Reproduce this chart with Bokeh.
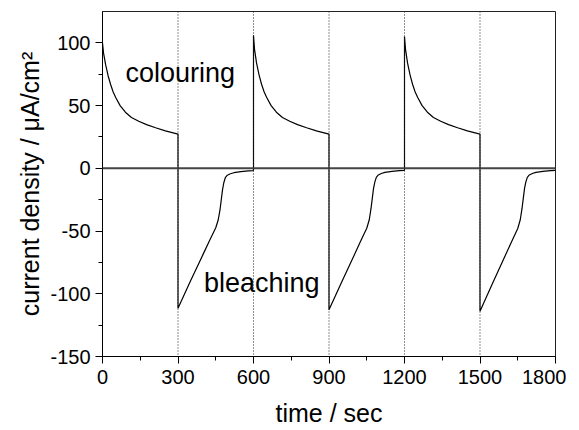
import numpy as np
from bokeh.plotting import figure
from bokeh.models import FixedTicker, Span, ColumnDataSource
from bokeh.core.properties import value
from bokeh.embed import file_html
from bokeh.resources import INLINE

# ---- data ----
# colouring steps: time relative to step start (s) and current density (uA/cm2)
t_colour = [0, 4, 12, 22, 32, 42, 52, 70, 91, 115, 144, 175, 211, 250, 300]
colour_1 = [100, 92, 83, 74, 67, 61, 56.6, 50, 44.7, 40.5, 37.5, 34.8, 32.3, 29.8, 27.3]
colour_2 = [106, 95, 84, 74.5, 67, 61, 56.6, 50, 44.7, 40.5, 37.5, 34.8, 32.3, 29.8, 27.3]
colour_3 = [105, 95, 84, 74.5, 67, 61, 56.6, 50, 44.7, 40.5, 37.5, 34.8, 32.3, 29.8, 27.3]

# bleaching steps
t_bleach = [0, 25, 50, 75, 100, 125, 150, 160, 167, 172, 177, 182, 188, 196, 208, 222, 250, 280, 300]
bleach_1 = [-111.5, -100.6, -89.7, -79, -68.4, -57.8, -47.4, -41, -33, -25, -17, -11.5, -7.5, -5.5, -4.3, -3.5, -2.6, -2.1, -1.8]
bleach_2 = [-112.7, -101.8, -90.8, -80, -69.2, -58.4, -47.8, -41, -32, -24, -16, -11, -7.2, -5.3, -4.1, -3.2, -2.4, -1.9, -1.6]
bleach_3 = [-114, -102.8, -91.6, -80.6, -69.6, -58.7, -48, -41, -32, -24, -16, -11, -7.2, -5.3, -4.1, -3.2, -2.4, -1.9, -1.6]

colour_starts = [0, 600, 1200]
bleach_starts = [300, 900, 1500]
switch_times = [300, 600, 900, 1200, 1500]

x_ticks = [0, 300, 600, 900, 1200, 1500, 1800]
x_minor = [150, 450, 750, 1050, 1350, 1650]
y_ticks = [-150, -100, -50, 0, 50, 100]
y_minor = [-125, -75, -25, 25, 75]

# ---- build the continuous trace ----
xs, ys = [], []
for cs, cv, bs, bv in zip(colour_starts, [colour_1, colour_2, colour_3],
                          bleach_starts, [bleach_1, bleach_2, bleach_3]):
    xs += [cs + t for t in t_colour]
    ys += list(cv)
    xs += [bs + t for t in t_bleach]
    ys += list(bv)

FONT = "Liberation Sans"

p = figure(frame_width=453, frame_height=345, x_range=(0, 1800), y_range=(-150, 125),
           output_backend="svg", toolbar_location=None,
           min_border_left=102, min_border_right=11, min_border_top=11, min_border_bottom=0)
p.xgrid.visible = False
p.ygrid.visible = False
p.outline_line_color = "#222222"
p.outline_line_width = 1
p.background_fill_color = "white"
p.border_fill_color = "white"

# zero line and switching markers
p.add_layout(Span(location=0, dimension="width", line_color="#444444", line_width=2))
for st in switch_times:
    p.add_layout(Span(location=st, dimension="height", line_color="#222222",
                      line_width=1, line_dash="1 2"))

p.line(xs, ys, line_color="black", line_width=1.2)

src = ColumnDataSource(dict(x=[91, 403], y=[76, -91.5], t=["colouring", "bleaching"]))
p.text(x="x", y="y", text="t", source=src, text_font=value(FONT),
       text_font_size="27px", text_color="black", text_baseline="alphabetic")

p.xaxis.ticker = FixedTicker(ticks=x_ticks, minor_ticks=x_minor)
p.yaxis.ticker = FixedTicker(ticks=y_ticks, minor_ticks=y_minor)
p.xaxis.major_label_overrides = {t: str(t) for t in x_ticks}
p.yaxis.major_label_overrides = {t: str(t) for t in y_ticks}
for ax in (p.xaxis, p.yaxis):
    ax.major_label_text_font = FONT
    ax.major_label_text_font_size = "20px"
    ax.major_label_text_color = "black"
    ax.axis_label_text_font = FONT
    ax.axis_label_text_font_size = "25px"
    ax.axis_label_text_font_style = "normal"
    ax.axis_label_text_color = "black"
    ax.axis_line_color = "black"
    ax.major_tick_line_color = "black"
    ax.minor_tick_line_color = "black"
    ax.major_tick_out = 7
    ax.major_tick_in = 0
    ax.minor_tick_out = 4
    ax.minor_tick_in = 0
p.xaxis.axis_label = "time / sec"
p.yaxis.axis_label = "current density / \u03bcA/cm\u00b2"
p.xaxis.major_label_standoff = 6
p.yaxis.major_label_standoff = 5
p.xaxis.axis_label_standoff = 12
p.yaxis.axis_label_standoff = 3

open("out.html", "w").write(file_html(p, INLINE))
